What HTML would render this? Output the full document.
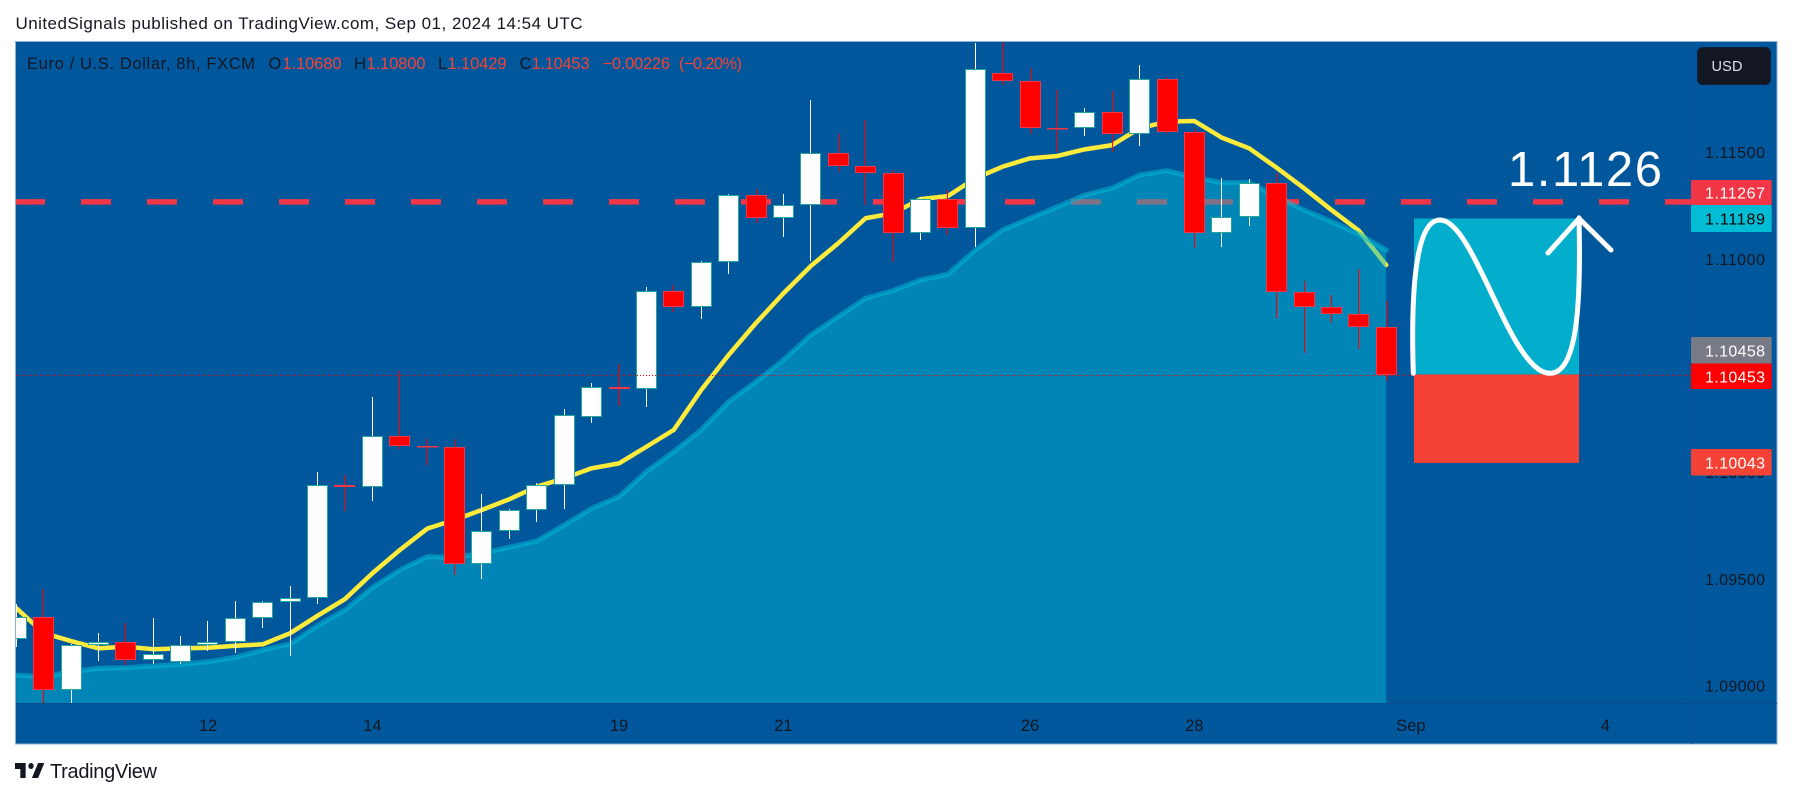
<!DOCTYPE html>
<html lang="en">
<head>
<meta charset="utf-8">
<title>Euro / U.S. Dollar chart</title>
<style>
html,body{margin:0;padding:0;background:#fff;width:1793px;height:798px;overflow:hidden}
svg{display:block}
text{font-family:"Liberation Sans",sans-serif}
</style>
</head>
<body>
<svg id="chart" width="1793" height="798" viewBox="0 0 1793 798" xmlns="http://www.w3.org/2000/svg">
  <defs>
    <clipPath id="plot-clip"><rect x="16" y="42" width="1675" height="661"/></clipPath>
  </defs>
  <text x="15.5" y="29" font-size="17" fill="#131722" textLength="567" lengthAdjust="spacing">UnitedSignals published on TradingView.com, Sep 01, 2024 14:54 UTC</text>

  <rect x="15.5" y="41.5" width="1761.5" height="702.5" fill="#01579b" stroke="#8fb0d0" stroke-width="1"/>
  <line x1="16" y1="703.5" x2="1777" y2="703.5" stroke="#0a4f8c" stroke-width="1"/>
  <line x1="1691.5" y1="42" x2="1691.5" y2="744" stroke="#0a4f8c" stroke-width="1"/>

  <g id="plot" clip-path="url(#plot-clip)"></g>
  <g id="drawings"></g>
  <g id="price-ticks"></g>
  <g id="time-ticks"></g>

  <g font-size="16.5">
    <text x="27" y="69" fill="#131722" textLength="228" lengthAdjust="spacing">Euro / U.S. Dollar, 8h, FXCM</text>
    <text x="268.5" y="69" fill="#131722">O</text>
    <text x="282.5" y="69" fill="#f44336" textLength="59" lengthAdjust="spacing">1.10680</text>
    <text x="354" y="69" fill="#131722">H</text>
    <text x="366.5" y="69" fill="#f44336" textLength="59" lengthAdjust="spacing">1.10800</text>
    <text x="438" y="69" fill="#131722">L</text>
    <text x="447.5" y="69" fill="#f44336" textLength="59" lengthAdjust="spacing">1.10429</text>
    <text x="519.5" y="69" fill="#131722">C</text>
    <text x="531.5" y="69" fill="#f44336" textLength="58" lengthAdjust="spacing">1.10453</text>
    <text x="602.5" y="69" fill="#f44336" textLength="67.5" lengthAdjust="spacing">−0.00226</text>
    <text x="679" y="69" fill="#f44336" textLength="63" lengthAdjust="spacing">(−0.20%)</text>
  </g>

  <g>
    <rect x="1697.5" y="47.5" width="73" height="37" rx="5" fill="#131722" stroke="#0e1f3a" stroke-width="1"/>
    <text x="1711.5" y="71" font-size="14.5" fill="#dfe2ea" textLength="31" lengthAdjust="spacing">USD</text>
  </g>

  <g>
    <g transform="translate(13.2,757) scale(0.89,1)" fill="#131722">
      <path d="M14 6H2v6h6v9h6V6z"/>
      <circle cx="20" cy="9" r="3"/>
      <path d="M28 6h7l-7 15h-7l7-15z"/>
    </g>
    <text x="50" y="778" font-size="20" fill="#131722" textLength="107" lengthAdjust="spacing">TradingView</text>
  </g>

  <g id="price-labels" font-size="16"></g>
</svg>

<script>
// ---- chart data ----
const opens = [1.09216,1.09320,1.08977,1.09188,1.09202,1.09118,1.09109,1.09188,1.09202,1.09315,1.09390,1.09409,1.09938,1.09929,1.10168,1.10121,1.10116,1.09568,1.09723,1.09821,1.09938,1.10257,1.10398,1.10388,1.10848,1.10773,1.10984,1.11298,1.11190,1.11251,1.11495,1.11434,1.11401,1.11120,1.11279,1.11143,1.11870,1.11832,1.11612,1.11612,1.11687,1.11584,1.11841,1.11593,1.11120,1.11195,1.11354,1.10843,1.10773,1.10740,1.10680];
const highs = [1.09380,1.09451,1.09194,1.09246,1.09293,1.09316,1.09232,1.09302,1.09396,1.09396,1.09466,1.10001,1.09985,1.10352,1.10473,1.10155,1.10154,1.09898,1.09827,1.09948,1.10296,1.10419,1.10507,1.10868,1.10876,1.10990,1.11304,1.11326,1.11304,1.11744,1.11585,1.11651,1.11416,1.11288,1.11321,1.12010,1.12021,1.11894,1.11791,1.11707,1.11787,1.11908,1.11851,1.11607,1.11379,1.11374,1.11401,1.10895,1.10829,1.10952,1.10800];
const lows = [1.09182,1.08918,1.08918,1.09116,1.09095,1.09102,1.09102,1.09163,1.09154,1.09271,1.09140,1.09383,1.09819,1.09866,1.10108,1.10033,1.09519,1.09500,1.09687,1.09768,1.09829,1.10232,1.10311,1.10307,1.10752,1.10719,1.10930,1.11168,1.11104,1.10990,1.11408,1.11251,1.10986,1.11090,1.11112,1.11057,1.11815,1.11586,1.11502,1.11576,1.11502,1.11529,1.11586,1.11052,1.11057,1.11155,1.10724,1.10560,1.10699,1.10577,1.10429];
const closes = [1.09320,1.08977,1.09188,1.09202,1.09118,1.09146,1.09188,1.09202,1.09315,1.09390,1.09409,1.09938,1.09929,1.10168,1.10121,1.10116,1.09568,1.09723,1.09821,1.09938,1.10266,1.10398,1.10388,1.10848,1.10773,1.10984,1.11298,1.11190,1.11251,1.11495,1.11434,1.11401,1.11120,1.11279,1.11143,1.11888,1.11832,1.11612,1.11610,1.11687,1.11584,1.11841,1.11593,1.11120,1.11195,1.11354,1.10843,1.10773,1.10740,1.10679,1.10453];
const fastAverage = [1.09363,1.09246,1.09208,1.09174,1.09182,1.09170,1.09174,1.09177,1.09186,1.09193,1.09245,1.09327,1.09405,1.09526,1.09635,1.09735,1.09776,1.09823,1.09873,1.09932,1.09971,1.10018,1.10041,1.10119,1.10198,1.10385,1.10549,1.10699,1.10838,1.10966,1.11073,1.11190,1.11213,1.11280,1.11294,1.11377,1.11432,1.11471,1.11482,1.11513,1.11533,1.11612,1.11643,1.11646,1.11568,1.11518,1.11427,1.11331,1.11229,1.11132,1.10971];
const slowAverage = [1.09049,1.09040,1.09065,1.09080,1.09083,1.09091,1.09099,1.09111,1.09132,1.09166,1.09194,1.09280,1.09354,1.09459,1.09541,1.09604,1.09600,1.09620,1.09648,1.09677,1.09752,1.09830,1.09885,1.10002,1.10096,1.10198,1.10330,1.10424,1.10526,1.10643,1.10729,1.10815,1.10851,1.10901,1.10927,1.11041,1.11135,1.11190,1.11244,1.11299,1.11331,1.11393,1.11413,1.11382,1.11357,1.11357,1.11291,1.11229,1.11174,1.11116,1.11041];
const priceTicks = [1.115,1.11,1.105,1.1,1.095,1.09];
const priceTickLabels = ["1.11500","1.11000","1.10500","1.10000","1.09500","1.09000"];
const timeTickBars = [7,13,22,28,37,43,50.9,58];
const timeTickLabels = ["12","14","19","21","26","28","Sep","4"];
const resistancePrice = 1.11267;
const lastPrice = 1.10453;
const positionEntry = 1.10458;
const positionTarget = 1.11189;
const positionStop = 1.10043;

// ---- scales ----
function xScale(i){ return 16.2 + 27.4 * i; }
function yScale(p){ return 258.8 + (1.11 - p) * 21333; }

const NS = 'http://www.w3.org/2000/svg';
function make(tag, attrs, parent){
  const el = document.createElementNS(NS, tag);
  for (const k in attrs) el.setAttribute(k, attrs[k]);
  parent.appendChild(el);
  return el;
}
const plot = document.getElementById('plot');
const drawings = document.getElementById('drawings');
const priceTicksGroup = document.getElementById('price-ticks');
const timeTicksGroup = document.getElementById('time-ticks');
const priceLabelsGroup = document.getElementById('price-labels');

// resistance line (beneath the moving averages)
const resistance = make('line', {x1:15, x2:1691, y1:yScale(resistancePrice), y2:yScale(resistancePrice), stroke:'#f23645', 'stroke-width':5.5, 'stroke-dasharray':'30 36'}, plot);



// fast moving average
const fastPts = fastAverage.map((v,i)=>xScale(i)+','+yScale(v)).join(' ');
const fastLine = make('polyline', {points:fastPts, fill:'none', stroke:'#ffeb3b', 'stroke-width':4.5, 'stroke-linejoin':'round', 'stroke-linecap':'round'}, plot);



// slow moving average area
const slowPts = slowAverage.map((v,i)=>xScale(i)+','+yScale(v));
const areaPath = 'M' + xScale(0) + ',703 L' + slowPts.join(' L') + ' L' + xScale(slowAverage.length-1) + ',703 Z';
const area = make('path', {d:areaPath, fill:'#00b8d4', 'fill-opacity':0.47}, plot);


const slowLine = make('polyline', {points:slowPts.join(' '), fill:'none', stroke:'#00b8d4', 'stroke-opacity':0.55, 'stroke-width':5, 'stroke-linejoin':'round', 'stroke-linecap':'round'}, plot);



// candles
opens.forEach((o,i)=>{
  const c = closes[i], up = c >= o;
  const x = Math.floor(xScale(i)) + 0.5;
  const g = make('g', {}, plot);
  
  
  const wick = make('line', {x1:x, x2:x, y1:Math.round(yScale(highs[i])), y2:Math.round(yScale(lows[i])), stroke:up?'#ffffff':'#ff0000', 'stroke-width':1}, g);
  
  
  const top = Math.round(yScale(Math.max(o,c))), bottom = Math.round(yScale(Math.min(o,c)));
  const body = make('rect', {x:x-10, y:top+0.5, width:20, height:Math.max(bottom-top-1,0.5), fill:up?'#ffffff':'#ff0000', stroke:up?'#26a69a':'#f23645', 'stroke-width':1}, g);
  
  
});

// last price line
const lastLine = make('line', {x1:16, x2:1691, y1:Math.round(yScale(lastPrice))+0.5, y2:Math.round(yScale(lastPrice))+0.5, stroke:'#ff0000', 'stroke-width':1, 'stroke-dasharray':'1 2'}, plot);



// long position tool
const profitBox = make('rect', {x:1414, width:165, y:yScale(positionTarget), height:yScale(positionEntry)-yScale(positionTarget), fill:'#02aecb'}, drawings);


const lossBox = make('rect', {x:1414, width:165, y:yScale(positionEntry), height:yScale(positionStop)-yScale(positionEntry), fill:'#f44336'}, drawings);



// hand-drawn projection
const curve = make('path', {d:'M1413.3 373.3 C1411 300,1414 220,1440 220 C1475 220,1510 373.3,1550 373.3 C1578 373.3,1581 300,1579 218', fill:'none', stroke:'#ffffff', 'stroke-width':5, 'stroke-linecap':'round'}, drawings);


const head = make('polyline', {points:'1548,253 1579,218.5 1611,250', fill:'none', stroke:'#ffffff', 'stroke-width':5, 'stroke-linecap':'round', 'stroke-linejoin':'miter'}, drawings);


const target = make('text', {x:1508, y:186, 'font-size':49, fill:'#ffffff', textLength:154, lengthAdjust:'spacing'}, drawings);


target.textContent = '1.1126';

// price axis ticks
priceTicks.forEach((p,i)=>{
  const t = make('text', {x:1705, y:yScale(p)+6, 'font-size':16, fill:'#131722', textLength:60, lengthAdjust:'spacing'}, priceTicksGroup);
  
  
  t.textContent = priceTickLabels[i];
});

// time axis ticks
timeTickBars.forEach((b,i)=>{
  const t = make('text', {x:xScale(b), y:731, 'font-size':16.5, fill:'#131722', 'text-anchor':'middle'}, timeTicksGroup);
  
  
  t.textContent = timeTickLabels[i];
});

// price axis badges
const badgeTexts = ['1.11267','1.11189','1.10458','1.10453','1.10043'];
const badgeTops = [180,205,337,363.5,449];
const badgeHeights = [25,27,26.5,25.5,26.5];
const badgeFills = ['#f23645','#00bcd4','#787b86','#ff0000','#f44336'];
const badgeInk = ['#ffffff','#000000','#ffffff','#ffffff','#ffffff'];
badgeTexts.forEach((label,i)=>{
  const r = make('rect', {x:1691, y:badgeTops[i], width:80.7, height:badgeHeights[i], rx:1.5, fill:badgeFills[i]}, priceLabelsGroup);
  
  
  const t = make('text', {x:1705, y:badgeTops[i]+badgeHeights[i]/2+6, fill:badgeInk[i], textLength:60, lengthAdjust:'spacing'}, priceLabelsGroup);
  
  
  t.textContent = label;
});
</script>
</body>
</html>
